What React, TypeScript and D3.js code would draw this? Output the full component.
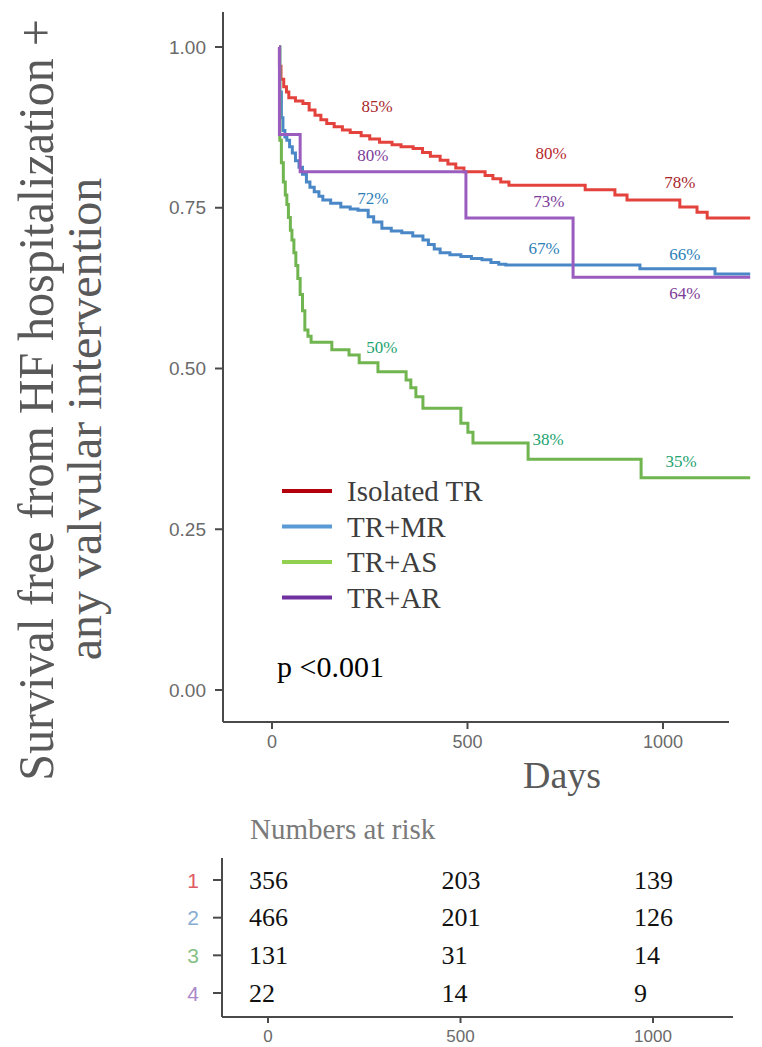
import React from "react";
import * as d3 from "d3";

// ---- data ----
const isolatedTR: [number, number][] = [
  [18, 1.0], [19, 0.97], [23, 0.95], [30, 0.938], [37, 0.93], [43, 0.921], [60, 0.916], [79, 0.912],
  [95, 0.902], [110, 0.894], [125, 0.887], [140, 0.881], [159, 0.876], [180, 0.871], [200, 0.867],
  [228, 0.862], [250, 0.857], [275, 0.852], [307, 0.848], [330, 0.845], [361, 0.842], [385, 0.836],
  [405, 0.830], [430, 0.824], [450, 0.818], [470, 0.812], [491, 0.806], [545, 0.800], [565, 0.795],
  [585, 0.790], [606, 0.785], [801, 0.778], [877, 0.770], [908, 0.762], [1043, 0.751], [1087, 0.743],
  [1113, 0.734],
];
const trMR: [number, number][] = [
  [18, 1.0], [20, 0.93], [24, 0.89], [28, 0.87], [33, 0.86], [38, 0.855], [45, 0.845], [52, 0.835],
  [60, 0.823], [69, 0.813], [78, 0.802], [88, 0.79], [97, 0.782], [108, 0.775], [120, 0.768],
  [130, 0.762], [150, 0.757], [176, 0.751], [200, 0.748], [220, 0.746], [246, 0.736], [260, 0.728],
  [281, 0.718], [305, 0.714], [332, 0.711], [360, 0.706], [386, 0.700], [400, 0.693], [415, 0.686],
  [430, 0.680], [455, 0.677], [483, 0.674], [510, 0.671], [537, 0.669], [560, 0.665], [580, 0.662],
  [598, 0.661], [941, 0.655], [1133, 0.647],
];
const trAS: [number, number][] = [
  [18, 1.0], [20, 0.855], [24, 0.82], [29, 0.79], [34, 0.77], [38, 0.755], [42, 0.735], [47, 0.715],
  [51, 0.70], [56, 0.68], [61, 0.66], [66, 0.64], [72, 0.615], [78, 0.59], [84, 0.56], [92, 0.55],
  [100, 0.541], [153, 0.529], [197, 0.521], [223, 0.509], [271, 0.495], [343, 0.482], [355, 0.470],
  [368, 0.456], [386, 0.438], [483, 0.415], [501, 0.401], [514, 0.384], [655, 0.359], [944, 0.330],
];
const trAR: [number, number][] = [
  [18, 1.0], [19, 0.864], [72, 0.806], [496, 0.734], [770, 0.642],
];
const endDay = 1223;

const seriesNames = ["Isolated TR", "TR+MR", "TR+AS", "TR+AR"];
const seriesData = [isolatedTR, trMR, trAS, trAR];
const curveColors = ["#e4423c", "#4a87c6", "#70b54f", "#9a5cbf"];
const legendColors = ["#b3000c", "#5b9bd5", "#92d050", "#7030a0"];

const yTicks = [0, 0.25, 0.5, 0.75, 1];
const xTicks = [0, 500, 1000];

const pctLabels = [
  { text: "85%", day: 269, surv: 0.907, color: "#a8262c" },
  { text: "80%", day: 714, surv: 0.835, color: "#b8272d" },
  { text: "78%", day: 1043, surv: 0.79, color: "#a8262c" },
  { text: "80%", day: 258, surv: 0.832, color: "#7d3c98" },
  { text: "72%", day: 258, surv: 0.765, color: "#2e80b8" },
  { text: "73%", day: 708, surv: 0.759, color: "#7d3c98" },
  { text: "67%", day: 696, surv: 0.687, color: "#2e80b8" },
  { text: "66%", day: 1056, surv: 0.677, color: "#2e80b8" },
  { text: "64%", day: 1056, surv: 0.617, color: "#7d3c98" },
  { text: "50%", day: 281, surv: 0.532, color: "#22a370" },
  { text: "38%", day: 706, surv: 0.389, color: "#22a370" },
  { text: "35%", day: 1046, surv: 0.355, color: "#22a370" },
];

const riskRows = ["1", "2", "3", "4"];
const riskRowColors = ["#e05a63", "#86acd4", "#86c086", "#ab88c8"];
const riskTimes = [0, 500, 1000];
const riskCounts = [
  [356, 203, 139],
  [466, 201, 126],
  [131, 31, 14],
  [22, 14, 9],
];

const serif = "'Liberation Serif', 'Times New Roman', serif";
const sans = "'Liberation Sans', Arial, sans-serif";

export default function App() {
  const W = 762;
  const H = 1047;
  const x = d3.scaleLinear().domain([0, 1000]).range([272, 663]);
  const y = d3.scaleLinear().domain([0, 1]).range([690, 47]);
  const tx = d3.scaleLinear().domain([0, 1000]).range([268, 653]);
  const ty = d3.scalePoint<string>().domain(riskRows).range([880, 993]);

  const line = d3
    .line<[number, number]>()
    .x((d) => x(d[0]))
    .y((d) => y(d[1]))
    .curve(d3.curveStepAfter);

  const axisColor = "#4a4a4a";
  const axisX0 = 223;
  const axisY = 722;
  const axisXEnd = 729;

  return (
    <svg
      width={W}
      height={H}
      style={{ position: "absolute", left: 0, top: 0, display: "block", background: "#fff" }}
    >
      <rect x={0} y={0} width={W} height={H} fill="#fff" />
      {/* y title */}
      <g fill="#595959" fontFamily={serif} fontSize={48}>
        <text transform={`translate(36,400) rotate(-90) scale(1,1.05)`} textAnchor="middle" dominantBaseline="central">
          Survival free from HF hospitalization +
        </text>
        <text transform={`translate(84,419) rotate(-90) scale(1,1.0)`} textAnchor="middle" dominantBaseline="central">
          any valvular intervention
        </text>
      </g>

      {/* main axes */}
      <line x1={axisX0} x2={axisX0} y1={12} y2={axisY} stroke={axisColor} strokeWidth={2} />
      <line x1={axisX0} x2={axisXEnd} y1={axisY} y2={axisY} stroke={axisColor} strokeWidth={2} />
      {yTicks.map((t) => (
        <g key={"yt" + t}>
          <line x1={215} x2={axisX0} y1={y(t)} y2={y(t)} stroke={axisColor} strokeWidth={2} />
          <text x={206} y={y(t)} textAnchor="end" dominantBaseline="central" fontFamily={sans} fontSize={19} fill="#6a6a6a">
            {d3.format(".2f")(t)}
          </text>
        </g>
      ))}
      {xTicks.map((t) => (
        <g key={"xt" + t}>
          <line x1={x(t)} x2={x(t)} y1={axisY} y2={axisY + 7} stroke={axisColor} strokeWidth={2} />
          <text x={x(t)} y={742} textAnchor="middle" dominantBaseline="central" fontFamily={sans} fontSize={18} fill="#6a6a6a">
            {t}
          </text>
        </g>
      ))}
      <text x={562} y={775} textAnchor="middle" dominantBaseline="central" fontFamily={serif} fontSize={38} fill="#595959">
        Days
      </text>

      {/* curves */}
      {seriesData.map((data, i) => {
        const pts: [number, number][] = [...data, [endDay, data[data.length - 1][1]]];
        return (
          <path key={seriesNames[i]} d={line(pts) || ""} fill="none" stroke={curveColors[i]} strokeWidth={3} />
        );
      })}

      {/* percent labels */}
      {pctLabels.map((l, i) => (
        <text key={"pl" + i} x={x(l.day)} y={y(l.surv)} textAnchor="middle" dominantBaseline="central" fontFamily={serif} fontSize={17} fill={l.color}>
          {l.text}
        </text>
      ))}

      {/* legend */}
      {seriesNames.map((n, i) => {
        const ly = 491 + i * 35.5;
        return (
          <g key={"lg" + n}>
            <line x1={282} x2={332} y1={ly} y2={ly} stroke={legendColors[i]} strokeWidth={4} />
            <text x={347} y={ly} dominantBaseline="central" fontFamily={serif} fontSize={29} fill="#3d3d3d">
              {n}
            </text>
          </g>
        );
      })}

      <text x={277} y={666} dominantBaseline="central" fontFamily={serif} fontSize={30} fill="#000">
        p &lt;0.001
      </text>

      {/* risk table */}
      <text x={250} y={829} dominantBaseline="central" fontFamily={serif} fontSize={29} fill="#7a7a7a">
        Numbers at risk
      </text>
      <line x1={222} x2={222} y1={858} y2={1017} stroke={axisColor} strokeWidth={2} />
      <line x1={222} x2={733} y1={1017} y2={1017} stroke={axisColor} strokeWidth={2} />
      {riskRows.map((r, i) => (
        <g key={"rr" + r}>
          <line x1={213} x2={222} y1={ty(r)!} y2={ty(r)!} stroke={axisColor} strokeWidth={2} />
          <text x={193} y={ty(r)!} textAnchor="middle" dominantBaseline="central" fontFamily={sans} fontSize={21} fill={riskRowColors[i]}>
            {r}
          </text>
          {riskTimes.map((t, j) => (
            <text key={"rc" + j} x={tx(t) - 19} y={ty(r)!} dominantBaseline="central" fontFamily={serif} fontSize={26} fill="#111">
              {riskCounts[i][j]}
            </text>
          ))}
        </g>
      ))}
      {riskTimes.map((t) => (
        <g key={"rt" + t}>
          <line x1={tx(t)} x2={tx(t)} y1={1017} y2={1023} stroke={axisColor} strokeWidth={2} />
          <text x={tx(t)} y={1036} textAnchor="middle" dominantBaseline="central" fontFamily={sans} fontSize={17} fill="#6a6a6a">
            {t}
          </text>
        </g>
      ))}
    </svg>
  );
}
